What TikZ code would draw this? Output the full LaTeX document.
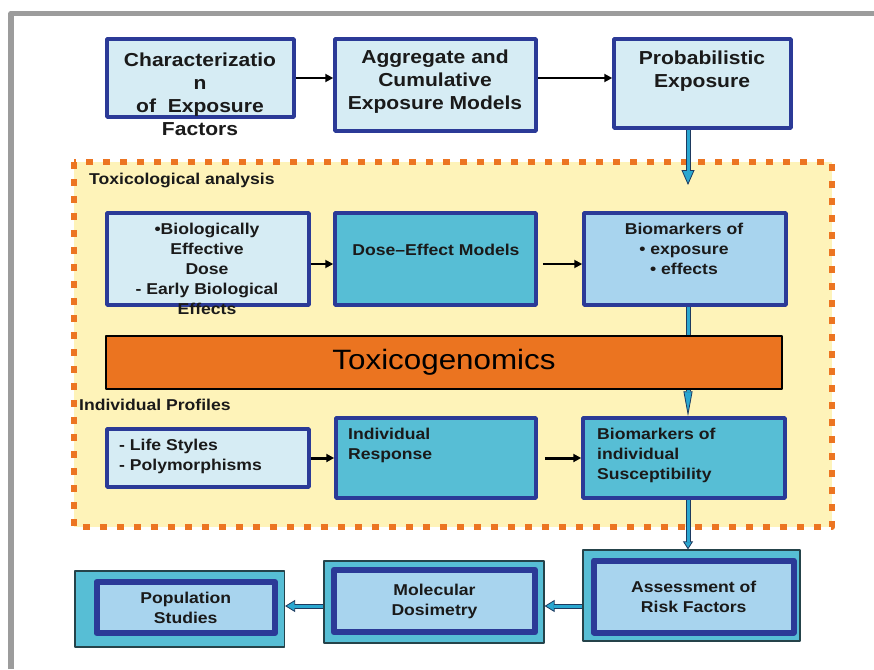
\documentclass[tikz,border=0pt]{standalone}
\usepackage{fontspec}
\newfontfamily\boxfont{Liberation Sans}[FakeStretch=1.12]
\usepackage{tikz}
\usetikzlibrary{arrows.meta}
\definecolor{framegrey}{HTML}{9C9C9C}
\definecolor{boxline}{HTML}{2B3A97}
\definecolor{paleblue}{HTML}{D6ECF4}
\definecolor{skyblue}{HTML}{A8D4EE}
\definecolor{cyanbox}{HTML}{57BED5}
\definecolor{zone}{HTML}{FEF3B9}
\definecolor{zonedot}{HTML}{EC7522}
\definecolor{genbar}{HTML}{EB7420}
\definecolor{connedge}{HTML}{1E3A5F}
\definecolor{conncore}{HTML}{2AA7D0}
\definecolor{shelledge}{HTML}{25434A}
\definecolor{ink}{HTML}{1A1A1A}

\begin{document}
\begin{tikzpicture}[x=1pt, y=-1pt, line join=round,
  exbox/.style={draw=boxline, line width=3.5pt, inner sep=0pt},
  palebox/.style={exbox, fill=paleblue},
  cyanbx/.style={exbox, fill=cyanbox},
  skybox/.style={exbox, fill=skyblue},
  bigtext/.style={font=\boxfont\bfseries\fontsize{18.8}{23}\selectfont, text=ink, align=center, inner sep=0pt},
  rowtext/.style={font=\boxfont\bfseries\fontsize{15.7}{20}\selectfont, text=ink, inner sep=0pt},
  shellbox/.style={draw=shelledge, line width=1.2pt, fill=cyanbox, inner sep=0pt},
  corebox/.style={rowtext, draw=boxline, line width=6pt, fill=skyblue, align=center},
  blackarr/.style={line width=#1, -{Triangle[length=8pt,width=8pt]}},
  tconn/.style={draw=connedge, line width=5pt, postaction={draw=conncore, line width=3pt, arrows=-, shorten >=#1}},
  tconn/.default=0pt,
  bigtip/.style={-{Triangle[length=15pt,width=13pt,line width=0.8pt,fill=conncore]}},
  longtip/.style={-{Triangle[length=25pt,width=9pt,line width=0.8pt,fill=conncore]}},
  smalltip/.style={-{Triangle[length=8pt,width=10pt,line width=0.8pt,fill=conncore]}},
  sidetip/.style={-{Triangle[length=10pt,width=12pt,line width=0.8pt,fill=conncore]}}]
  \useasboundingbox (0,0) rectangle (874,669);
  \fill[white] (0,0) rectangle (874,669);
  % grey frame of the slide
  \draw[framegrey, line width=5.5pt] (11,669) -- (11,13.5) -- (874,13.5);

  % exposure row
  \node[palebox, minimum width=187pt, minimum height=78pt] (char) at (200.5,78) {};
  \node[palebox, minimum width=201pt, minimum height=92pt] (agg) at (435.5,85) {};
  \node[palebox, minimum width=177pt, minimum height=89pt] (prob) at (702.5,83.5) {};
  \node[bigtext] (chartxt) at (200,94) {Characterizatio\\n\\of\ \ Exposure\\Factors};
  \node[bigtext] (aggtxt) at (435,82) {Aggregate and\\Cumulative\\Exposure Models};
  \node[bigtext] (probtxt) at (702,71) {Probabilistic\\Exposure};
  \draw[blackarr=2.4pt] (char.east) -- (char.east -| agg.west);
  \draw[blackarr=2.4pt] (agg.east |- char.east) -- (prob.west |- char.east);

  % dotted yellow zone
  \draw[zonedot, line width=6pt, dash pattern=on 7pt off 10pt, fill=zone] (74,162) rectangle (832,527);
  \node[rowtext, anchor=west] (toxlbl) at (89,180) {Toxicological analysis};
  \node[rowtext, anchor=west] (indlbl) at (79,405) {Individual Profiles};

  % toxicological row
  \node[palebox, minimum width=202pt, minimum height=92pt] (bio) at (208,259) {};
  \node[cyanbx, minimum width=201pt, minimum height=92pt] (dose) at (435.5,259) {};
  \node[skybox, minimum width=202pt, minimum height=92pt] (biom) at (685,259) {};
  \node[rowtext, align=center] (biotxt) at (207,269) {•Biologically\\Effective\\Dose\\- Early Biological\\Effects};
  \node[rowtext] (dosetxt) at (436,250) {Dose–Effect Models};
  \node[rowtext, align=center] (biomtxt) at (684,249) {Biomarkers of\\• exposure\\• effects};
  \draw[blackarr=1.8pt] ([yshift=-5pt]bio.east) -- ([yshift=-5pt]dose.west);
  \draw[blackarr=1.8pt] ([xshift=5pt,yshift=-5pt]dose.east) -- ([yshift=-5pt]biom.west);

  % toxicogenomics bar
  \node[draw=black, line width=2.5pt, fill=genbar, inner sep=0pt, minimum width=676pt, minimum height=53pt,
    font=\boxfont\fontsize{28}{32}\selectfont] (genes) at (444,362.5) {Toxicogenomics};

  % individual row
  \node[palebox, minimum width=202pt, minimum height=58pt] (life) at (208,458) {};
  \node[cyanbx, minimum width=200pt, minimum height=80pt] (resp) at (436,458) {};
  \node[cyanbx, minimum width=202pt, minimum height=80pt] (susc) at (684,458) {};
  \node[rowtext, align=left, anchor=west] (lifetxt) at (119,456) {- Life Styles\\- Polymorphisms};
  \node[rowtext, align=left, anchor=west] (resptxt) at (348,445) {Individual\\Response};
  \node[rowtext, align=left, anchor=west] (susctxt) at (597,455) {Biomarkers of\\individual\\Susceptibility};
  \draw[blackarr=3pt] (life.east) -- (life.east -| resp.west);
  \draw[blackarr=3pt] ([xshift=7pt]resp.east) -- (susc.west);

  % risk row
  \node[shellbox, minimum width=217pt, minimum height=91pt] (assess) at (691.5,595.5) {};
  \node[corebox, minimum width=199.5pt, minimum height=72pt] (assesscore) at (693.75,596.5) {Assessment of\\Risk Factors};
  \node[shellbox, minimum width=220pt, minimum height=82pt] (molec) at (434,602) {};
  \node[corebox, minimum width=201pt, minimum height=62.5pt] (moleccore) at (434.5,601) {Molecular\\Dosimetry};
  \node[shellbox, minimum width=209.5pt, minimum height=76pt] (pop) at (179.75,609) {};
  \node[corebox, minimum width=178.5pt, minimum height=51pt] (popcore) at (185.75,607.5) {Population\\Studies};

  % cyan spine
  \coordinate (spine) at (688,0);
  \coordinate (probtip) at (688,185);
  \draw[tconn=13pt, bigtip] (prob.south -| spine) -- (probtip);
  \draw[tconn] (biom.south -| spine) -- (genes.north -| spine);
  \draw[tconn=24pt, longtip] (genes.south -| spine) -- (susc.north -| spine);
  \draw[tconn=7pt, smalltip] (susc.south -| spine) -- (assess.north -| spine);
  \draw[tconn=9pt, sidetip] ([yshift=-4pt]assess.west |- molec.east) -- ([yshift=-4pt]molec.east);
  \draw[tconn=9pt, sidetip] ([yshift=-4pt]molec.west) -- ([yshift=-4pt]pop.east |- molec.west);
\end{tikzpicture}
\end{document}
